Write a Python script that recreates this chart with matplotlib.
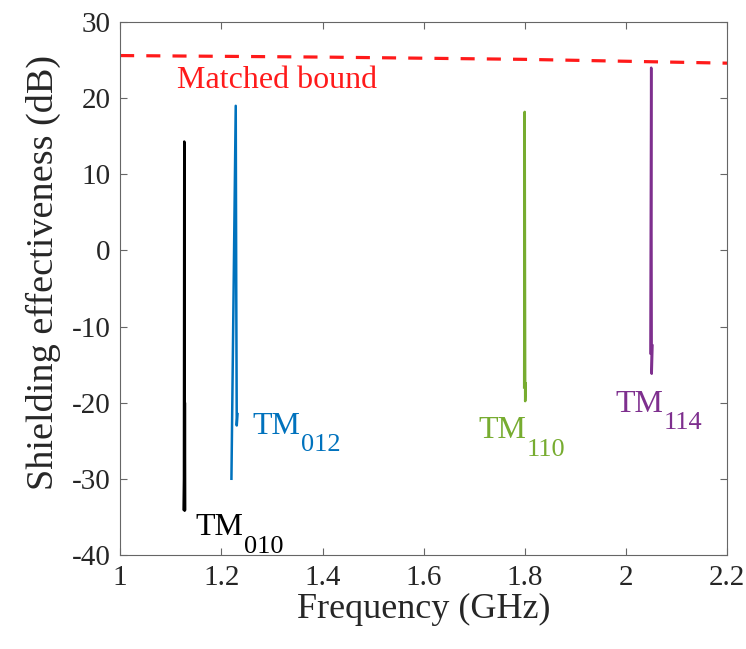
import numpy as np
import matplotlib.pyplot as plt

plt.rcParams['font.family'] = 'Liberation Serif'
plt.rcParams['axes.unicode_minus'] = False

# matched bound (dB)
bound_f = [1.0, 1.4, 1.8, 2.2]
bound_se = [25.6, 25.4, 25.1, 24.6]

# resonances: frequency (GHz) and shielding effectiveness (dB)
tm010_f = [1.1255, 1.1262, 1.1268, 1.1275, 1.128, 1.1285]
tm010_se = [-34.0, -30.0, 14.3, -34.2, -20.0, -34.0]
tm012_f = [1.2200, 1.2285, 1.2295, 1.2305, 1.2320]
tm012_se = [-30.0, 19.0, -5.0, -23.0, -21.5]
tm110_f = [1.7985, 1.7995, 1.8005, 1.8015]
tm110_se = [-18.0, 18.2, -19.8, -17.5]
tm114_f = [2.0480, 2.0495, 2.0505, 2.0520]
tm114_se = [-13.5, 24.0, -16.2, -12.5]

# mode labels: (subscript, x, y baseline, colour)
mode_labels = [('010', 1.148, -37.4, 'black'),
               ('012', 1.262, -24.1, '#0072BD'),
               ('110', 1.708, -24.7, '#77AC30'),
               ('114', 1.978, -21.2, '#7E2F8E')]

fig, ax = plt.subplots(figsize=(7.46, 6.49), dpi=100)
fig.subplots_adjust(left=0.161, right=0.975, bottom=0.145, top=0.966)

ax.plot(bound_f, bound_se, '--', color='#ff1a1a', linewidth=2.3, dashes=(4.4, 3.8))
ax.plot(tm010_f, tm010_se, color='black', linewidth=1.8)
ax.plot(tm012_f, tm012_se, color='#0072BD', linewidth=1.8)
ax.plot(tm110_f, tm110_se, color='#77AC30', linewidth=1.8)
ax.plot(tm114_f, tm114_se, color='#7E2F8E', linewidth=1.8)

ax.text(1.113, 21.4, 'Matched bound', color='#ff1a1a', fontsize=23, va='baseline')
for sub, x, y, c in mode_labels:
    t = ax.text(x, y, 'TM', color=c, fontsize=23, va='baseline')
    ax.annotate(sub, xy=(1, 0), xycoords=t, xytext=(0.5, -7.5), textcoords='offset points',
                color=c, fontsize=19, va='baseline', ha='left')

ax.set_xlim(1, 2.2)
ax.set_ylim(-40, 30)
ax.set_xticks(np.arange(1, 2.21, 0.2))
ax.set_xticklabels(['1', '1.2', '1.4', '1.6', '1.8', '2', '2.2'])
ax.set_yticks(np.arange(-40, 31, 10))
ax.tick_params(direction='in', top=True, right=True, labelsize=21, length=5,
               color='#666666', labelcolor='#262626', pad=7)
for s in ax.spines.values():
    s.set_color('#666666')
ax.set_xlabel('Frequency (GHz)', fontsize=26, color='#262626', labelpad=2)
ax.set_ylabel('Shielding effectiveness (dB)', fontsize=27.5, color='#262626')
ax.yaxis.set_label_coords(-0.098, 0.53)

fig.savefig('out.png', dpi=100)
